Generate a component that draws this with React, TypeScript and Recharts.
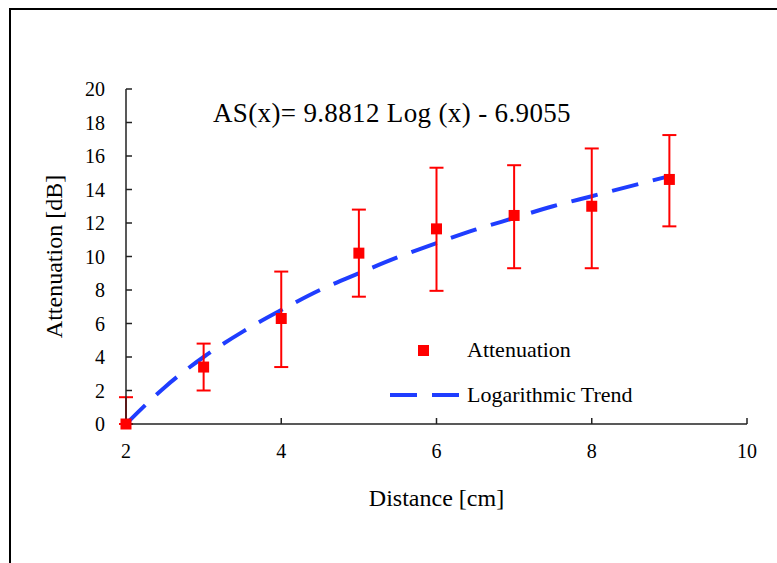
import React from 'react';
import { ComposedChart, Line, Scatter, ErrorBar, XAxis, YAxis, ZAxis } from 'recharts';

const distances = [2, 3, 4, 5, 6, 7, 8, 9];
const attenuation = [0, 3.4, 6.3, 10.2, 11.65, 12.45, 13.0, 14.6];
const errLow = [0, 1.4, 2.9, 2.6, 3.7, 3.15, 3.7, 2.8];
const errHigh = [1.6, 1.4, 2.8, 2.6, 3.65, 3.0, 3.45, 2.65];

// logarithmic trend, sampled every half cm
const trendX = [2, 2.5, 3, 3.5, 4, 4.5, 5, 5.5, 6, 6.5, 7, 7.5, 8, 8.5, 9];
const trendY = [0, 2.2, 4.0, 5.5, 6.8, 8.0, 9.0, 9.95, 10.8, 11.6, 12.3, 13.0, 13.6, 14.2, 14.8];

const xTicks = [2, 4, 6, 8, 10];
const yTicks = [0, 2, 4, 6, 8, 10, 12, 14, 16, 18, 20];

const points = distances.map((d, i) => ({ x: d, y: attenuation[i], err: [errLow[i], errHigh[i]] }));
const trend = trendX.map((x, i) => ({ x, y: trendY[i] }));

const FONT = '"Liberation Serif", "Times New Roman", serif';
const RED = '#ff0000';
const BLUE = '#1f3dff';

const legendItems = [
  { label: 'Attenuation', kind: 'square' },
  { label: 'Logarithmic Trend', kind: 'dash' },
];

function ChartLegend() {
  return (
    <div style={{ position: 'absolute', left: 389, top: 327, fontFamily: FONT, fontSize: 22, color: '#000' }}>
      {legendItems.map((item) => (
        <div key={item.label} style={{ display: 'flex', alignItems: 'center', height: 45 }}>
          <svg width={78} height={20}>
            {item.kind === 'square' ? (
              <rect x={29} y={5} width={11} height={11} fill={RED} />
            ) : (
              <line x1={1} y1={10} x2={70} y2={10} stroke={BLUE} strokeWidth={4} strokeDasharray="27 15" />
            )}
          </svg>
          <span>{item.label}</span>
        </div>
      ))}
    </div>
  );
}

export default function App() {
  const axisStyle = { fontFamily: FONT, fontSize: 20, fill: '#000' };
  return (
    <div style={{ position: 'absolute', left: 0, top: 0, width: 777, height: 563, background: '#fff', overflow: 'hidden' }}>
      <div style={{ position: 'absolute', left: 9, top: 8, width: 800, height: 600, borderTop: '2px solid #000', borderLeft: '2px solid #000' }} />
      <ComposedChart width={777} height={563} margin={{ top: 89, right: 30, left: 0, bottom: 59 }}>
        <XAxis
          dataKey="x"
          type="number"
          domain={[2, 10]}
          ticks={xTicks}
          interval={0}
          stroke="#222"
          strokeWidth={1.5}
          tickSize={-6}
          tickMargin={26}
          tick={axisStyle}
          height={80}
          label={{ value: 'Distance [cm]', position: 'insideBottom', offset: -2, style: { fontFamily: FONT, fontSize: 24, fill: '#000' } }}
        />
        <YAxis
          dataKey="y"
          type="number"
          domain={[0, 20]}
          ticks={yTicks}
          interval={0}
          stroke="#222"
          strokeWidth={1.5}
          tickSize={-6}
          tickMargin={27}
          tick={axisStyle}
          width={126}
          label={{ value: 'Attenuation [dB]', angle: -90, position: 'insideLeft', offset: 53, style: { fontFamily: FONT, fontSize: 24, fill: '#000', textAnchor: 'middle' } }}
        />
        <ZAxis range={[121, 121]} />
        <Line
          data={trend}
          dataKey="y"
          type="monotone"
          dot={false}
          stroke={BLUE}
          strokeWidth={4}
          strokeDasharray="27 15"
          isAnimationActive={false}
          legendType="none"
        />
        <Scatter data={points} dataKey="y" fill={RED} shape="square" isAnimationActive={false}>
          <ErrorBar dataKey="err" direction="y" width={7} stroke={RED} strokeWidth={2} />
        </Scatter>
      </ComposedChart>
      <ChartLegend />
      <div style={{ position: 'absolute', left: 213, top: 98, fontFamily: FONT, fontSize: 27, letterSpacing: 0.35, color: '#000', whiteSpace: 'nowrap' }}>
        AS(x)= 9.8812 Log (x) - 6.9055
      </div>
    </div>
  );
}
